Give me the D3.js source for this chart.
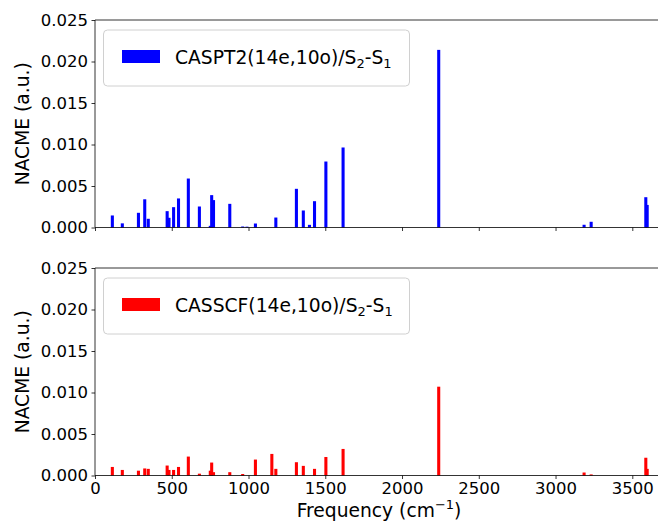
<!DOCTYPE html>
<html><head><meta charset="utf-8">
<script src="https://cdn.jsdelivr.net/npm/d3@7"></script>
<style>body{margin:0;background:#fff}svg{display:block;font-family:"DejaVu Sans",sans-serif}</style>
</head><body><svg id="c" width="658" height="523"></svg>
<script>
const freqs = [113,178,283,324,347,470,482,512,544,608,680,751,760,772,878,962,990,1045,1152,1178,1312,1357,1397,1430,1504,1616,2239,3186,3232,3588,3597];
const caspt2 = [0.00145,0.0005,0.00177,0.0034,0.00105,0.00197,0.00117,0.00245,0.0035,0.0059,0.00253,0.0002,0.0039,0.0033,0.00285,0.00012,0.0001,0.00048,0,0.0012,0.00466,0.00205,0.00032,0.00317,0.00795,0.00964,0.0214,0.00033,0.00069,0.00365,0.00272];
const casscf = [0.00103,0.00067,0.00058,0.00085,0.0008,0.0012,0.00067,0.00067,0.00103,0.00228,0.00022,0.00058,0.00156,0.0004,0.0004,0.00018,0,0.00192,0.0026,0.0008,0.0016,0.00116,0,0.0008,0.00223,0.0032,0.0107,0.00036,0.00013,0.00214,0.0008];
const xTicks = [0,500,1000,1500,2000,2500,3000,3500];
const yTicks = [0,0.005,0.010,0.015,0.020,0.025];
const barWidth = 20;

const svg = d3.select("#c");
const x = d3.scaleLinear().domain([0,3700]).range([95,663]);

const panels = [
  {vals: caspt2, color: "#0000ff", top: 20, label: ["CASPT2(14e,10o)/S","2","-S","1"], showX:false},
  {vals: casscf, color: "#ff0000", top: 268, label: ["CASSCF(14e,10o)/S","2","-S","1"], showX:true}
];
const H = 207.5;

panels.forEach(p => {
  const y = d3.scaleLinear().domain([0,0.025]).range([p.top+H, p.top]);
  const g = svg.append("g");
  g.selectAll("rect.bar").data(freqs.map((f,i)=>({f, v:p.vals[i]})).filter(d=>d.v>0))
    .enter().append("rect")
    .attr("x", d=>x(d.f-barWidth/2)).attr("width", d=>x(d.f+barWidth/2)-x(d.f-barWidth/2))
    .attr("y", d=>y(d.v)).attr("height", d=>y(0)-y(d.v))
    .attr("fill", p.color);

  // axes
  const yAx = g.append("g").attr("transform",`translate(95,0)`)
    .call(d3.axisLeft(y).tickValues(yTicks).tickFormat(d3.format(".3f")).tickSizeOuter(0).tickSize(3.5).tickPadding(3.5));
  yAx.select(".domain").remove();
  yAx.selectAll("text").attr("font-size","16.5px").attr("fill","#000").attr("font-family","DejaVu Sans");
  yAx.selectAll("line").attr("stroke","#000").attr("stroke-width",0.8);

  const xAx = g.append("g").attr("transform",`translate(0,${p.top+H})`)
    .call(d3.axisBottom(x).tickValues(xTicks).tickSizeOuter(0).tickSize(3.5).tickPadding(3.5).tickFormat(p.showX ? d3.format("d") : ""));
  xAx.select(".domain").remove();
  xAx.selectAll("text").attr("font-size","16.5px").attr("fill","#000").attr("font-family","DejaVu Sans");
  xAx.selectAll("line").attr("stroke","#000").attr("stroke-width",0.8);

  // spines
  g.append("line").attr("x1",95).attr("x2",95).attr("y1",p.top).attr("y2",p.top+H).attr("stroke","#000").attr("stroke-width",0.8);
  g.append("line").attr("x1",95).attr("x2",663).attr("y1",p.top+H).attr("y2",p.top+H).attr("stroke","#000").attr("stroke-width",0.8);
  g.append("line").attr("x1",95).attr("x2",663).attr("y1",p.top).attr("y2",p.top).attr("stroke","#000").attr("stroke-width",0.8);

  // y label
  g.append("text").attr("transform",`translate(29,${p.top+H/2}) rotate(-90)`)
    .attr("text-anchor","middle").attr("font-size","18.7px").text("NACME (a.u.)");

  // legend
  const ly = p.top + 10;
  g.append("rect").attr("x",103.5).attr("y",ly).attr("width",306).attr("height",56).attr("rx",4)
    .attr("fill","#fff").attr("fill-opacity",0.8).attr("stroke","#d0d0d0").attr("stroke-width",1);
  g.append("rect").attr("x",122).attr("y",ly+20).attr("width",38).attr("height",13).attr("fill",p.color);
  const t = g.append("text").attr("x",175).attr("y",ly+34).attr("font-size","18.7px");
  t.append("tspan").text(p.label[0]);
  t.append("tspan").attr("font-size","13px").attr("dy",4).text(p.label[1]);
  t.append("tspan").attr("dy",-4).text(p.label[2]);
  t.append("tspan").attr("font-size","13px").attr("dy",4).text(p.label[3]);
});

const xl = svg.append("text").attr("x",379).attr("y",517).attr("text-anchor","middle").attr("font-size","18.7px");
xl.append("tspan").text("Frequency (cm");
xl.append("tspan").attr("font-size","13px").attr("dy",-8).text("\u22121");
xl.append("tspan").attr("dy",8).text(")");
</script></body></html>
